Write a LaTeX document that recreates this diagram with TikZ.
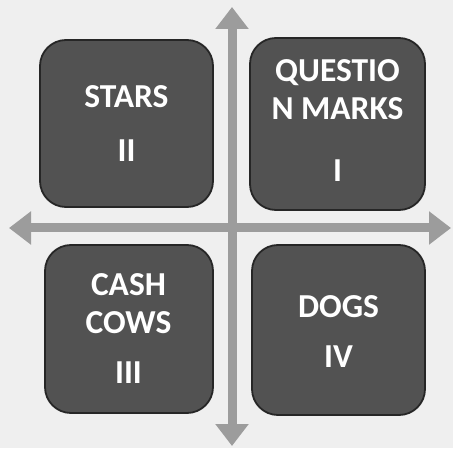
\documentclass[tikz,border=0pt]{standalone}
\usepackage{fontspec}
\setmainfont{Carlito}
\usetikzlibrary{arrows.meta}
\definecolor{bgc}{HTML}{EFEFEF}
\definecolor{boxc}{HTML}{525252}
\definecolor{axisc}{HTML}{9C9C9C}
\tikzset{
  quad/.style={draw=black!85, line width=1.8pt, fill=boxc, rounded corners=26pt, inner sep=0pt},
  lbl/.style={text=white, font=\bfseries\fontsize{33.5}{33.5}\selectfont, anchor=base, inner sep=0pt},
  axisline/.style={draw=axisc, line width=9pt, {Triangle[width=32pt,length=22pt]}-{Triangle[width=32pt,length=22pt]}}
}
\begin{document}
\begin{tikzpicture}[x=1pt,y=1pt]
\fill[bgc] (0,0) rectangle (453,448);
\useasboundingbox (0,0) rectangle (453,448);
% axes
\coordinate (top) at (232,441);
\coordinate (bot) at (232,2);
\coordinate (lft) at (9,220);
\coordinate (rgt) at (451,220);
\draw[axisline] (bot) -- (top);
\draw[axisline] (lft) -- (rgt);
% boxes
\node[quad, minimum width=173pt, minimum height=167pt] (stars) at (126.5,324.5) {};
\node[quad, minimum width=175pt, minimum height=172pt] (qm) at (337.5,324) {};
\node[quad, minimum width=168pt, minimum height=168pt] (cc) at (129,119) {};
\node[quad, minimum width=173pt, minimum height=170pt] (dogs) at (338.5,118) {};
% labels
\node[lbl] (starsA) at (126.5,340) {STARS};
\node[lbl] (starsB) at (126.5,286) {II};
\node[lbl] (qmA) at (337.5,366) {QUESTIO};
\node[lbl] (qmB) at (337.5,328) {N MARKS};
\node[lbl] (qmC) at (337.5,266) {I};
\node[lbl] (ccA) at (128.5,153) {CASH};
\node[lbl] (ccB) at (128.5,115) {COWS};
\node[lbl] (ccC) at (128.5,65) {III};
\node[lbl] (dogsA) at (338.5,131) {DOGS};
\node[lbl] (dogsB) at (338.5,81) {IV};
\end{tikzpicture}
\end{document}
